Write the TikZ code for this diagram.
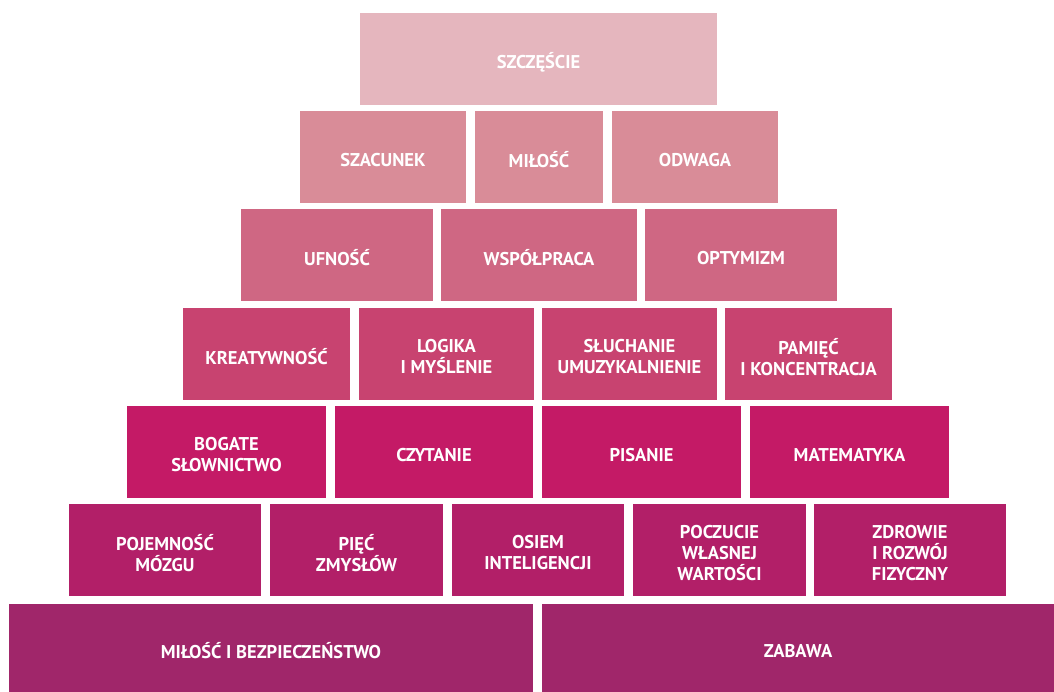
\documentclass[tikz,border=0pt]{standalone}
\usepackage{fontspec}
\setmainfont{PT Sans}
\definecolor{rA}{HTML}{E5B6BE}
\definecolor{rB}{HTML}{D98C98}
\definecolor{rC}{HTML}{CF6783}
\definecolor{rD}{HTML}{C84370}
\definecolor{rE}{HTML}{C41A66}
\definecolor{rF}{HTML}{B21F68}
\definecolor{rG}{HTML}{A0266A}
\tikzset{blk/.style={anchor=north west, inner sep=0pt, outer sep=0pt, draw=none},
  lbl/.style={inner sep=0pt, text=white, align=center, font=\bfseries\fontsize{18.5}{21}\selectfont}}
\newcommand{\blkbox}[7]{%
  \node[blk, fill=#6, minimum width=#4pt-#2pt, minimum height=#5pt-#3pt] (#1) at (#2pt,-#3pt) {};
  \node[lbl] (#1-t) at ([yshift=-3pt]#1.center) {#7};}
\begin{document}
\begin{tikzpicture}
\useasboundingbox (0pt,0pt) rectangle (1054pt,-692pt);
\blkbox{szczescie}{360}{13}{717}{105}{rA}{SZCZĘŚCIE}
\blkbox{szacunek}{300}{111}{466}{203}{rB}{SZACUNEK}
\blkbox{milosc}{475}{111}{603}{203}{rB}{MIŁOŚĆ}
\blkbox{odwaga}{612}{111}{778}{203}{rB}{ODWAGA}
\blkbox{ufnosc}{241}{209}{433}{301}{rC}{UFNOŚĆ}
\blkbox{wspolpraca}{441}{209}{637}{301}{rC}{WSPÓŁPRACA}
\blkbox{optymizm}{645}{209}{837}{301}{rC}{OPTYMIZM}
\blkbox{kreat}{183}{308}{350}{400}{rD}{KREATYWNOŚĆ}
\blkbox{logika}{359}{308}{534}{400}{rD}{LOGIKA\\I MYŚLENIE}
\blkbox{sluchanie}{542}{308}{717}{400}{rD}{SŁUCHANIE\\UMUZYKALNIENIE}
\blkbox{pamiec}{725}{308}{892}{400}{rD}{PAMIĘĆ\\I KONCENTRACJA}
\blkbox{bogate}{127}{406}{326}{498}{rE}{BOGATE\\SŁOWNICTWO}
\blkbox{czytanie}{335}{406}{533}{498}{rE}{CZYTANIE}
\blkbox{pisanie}{542}{406}{741}{498}{rE}{PISANIE}
\blkbox{matematyka}{750}{406}{949}{498}{rE}{MATEMATYKA}
\blkbox{pojemnosc}{69}{504}{261}{596}{rF}{POJEMNOŚĆ\\MÓZGU}
\blkbox{piec}{270}{504}{443}{596}{rF}{PIĘĆ\\ZMYSŁÓW}
\blkbox{osiem}{452}{504}{624}{596}{rF}{OSIEM\\INTELIGENCJI}
\blkbox{poczucie}{633}{504}{806}{596}{rF}{POCZUCIE\\WŁASNEJ\\WARTOŚCI}
\blkbox{zdrowie}{814}{504}{1006}{596}{rF}{ZDROWIE\\I ROZWÓJ\\FIZYCZNY}
\blkbox{bezp}{9}{604}{533}{692}{rG}{MIŁOŚĆ I BEZPIECZEŃSTWO}
\blkbox{zabawa}{542}{604}{1054}{692}{rG}{ZABAWA}
\end{tikzpicture}
\end{document}
